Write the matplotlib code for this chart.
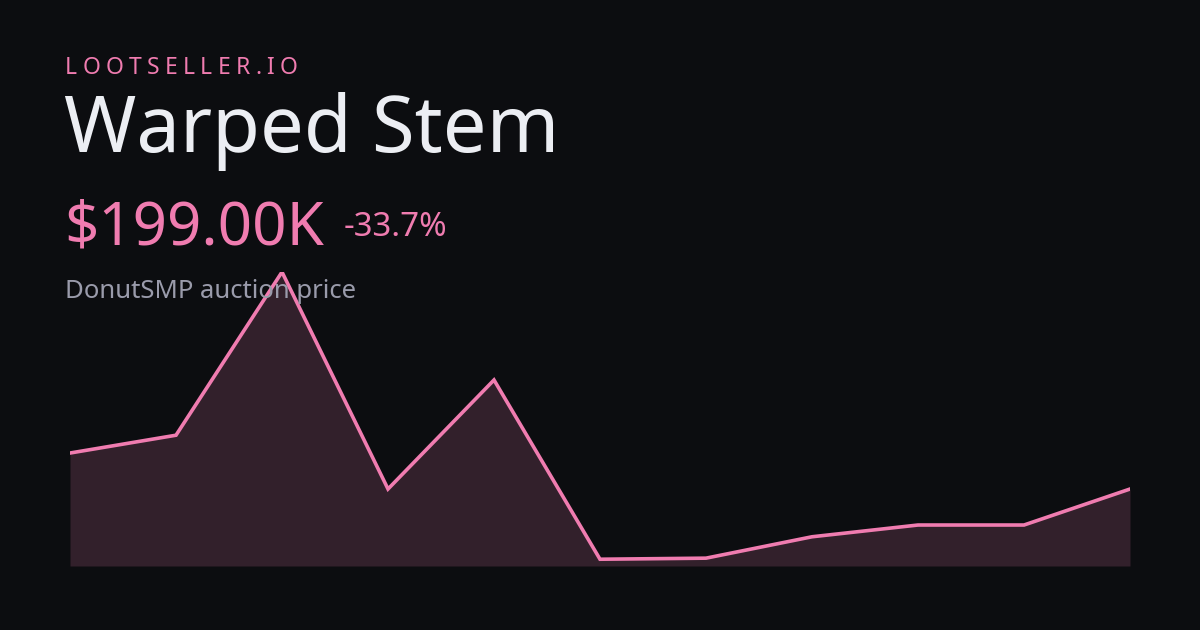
import matplotlib
matplotlib.use("Agg")
import matplotlib.pyplot as plt

values = [300, 350, 808, 199, 505, 2, 5, 65, 98, 98, 199]
x = list(range(len(values)))
brand = "LOOTSELLER.IO"
title = "Warped Stem"
price = "$199.00K"
change = "-33.7%"
subtitle = "DonutSMP auction price"

W, H = 1200, 630
bg = "#0c0d10"
pink = "#f07cb0"
fig = plt.figure(figsize=(12, 6.3), dpi=100, facecolor=bg)
ax = fig.add_axes([70/W, 1-566/H, 1060/W, 294/H])
ax.set_facecolor("none")
ax.fill_between(x, values, -17, color="#32202b", lw=0)
ax.plot(x, values, color=pink, lw=2.6, solid_joinstyle="miter")
ax.set_xlim(0, len(values)-1)
ax.set_ylim(-17, 808)
ax.axis("off")

fam = ["Noto Sans", "DejaVu Sans"]
r = fig.canvas.get_renderer()
px = 65
for ch in brand:
    t = fig.text(px/W, 1-74/H, ch, color=pink, fontsize=16.5, family=fam, va="baseline")
    w = t.get_window_extent(r).width
    px += w + 5.3
fig.text(64/W, 1-152/H, title, color="#eceef3", fontsize=56, family=fam, va="baseline")
fig.text(64/W, 1-245/H, price, color=pink, fontsize=43.2, family=fam, va="baseline")
fig.text(344/W, 1-236/H, change, color=pink, fontsize=23.8, family=fam, va="baseline")
fig.text(65/W, 1-298/H, subtitle, color="#9a9bab", fontsize=18.5, family=fam, va="baseline")
fig.savefig("out.png", dpi=100, facecolor=bg)
